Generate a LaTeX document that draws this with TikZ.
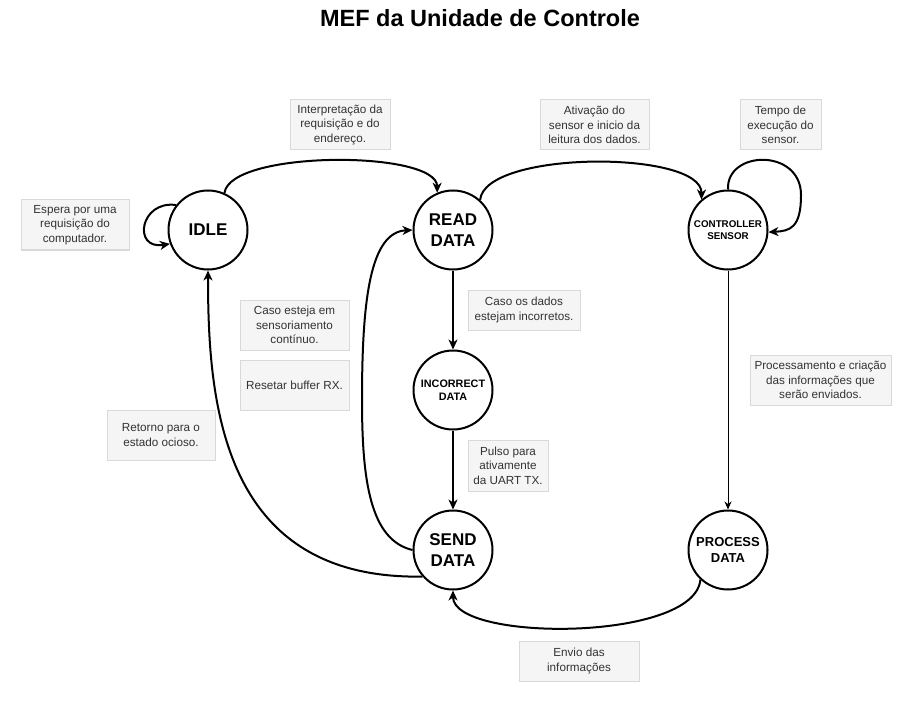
\documentclass[tikz,border=0pt]{standalone}
\usepackage{fontspec}
\setmainfont{Liberation Sans}
\usetikzlibrary{arrows.meta}
\definecolor{lblfill}{HTML}{F5F5F5}
\definecolor{lbldraw}{HTML}{D9D9D9}
\definecolor{lbltext}{HTML}{333333}
\begin{document}
\begin{tikzpicture}[x=1pt,y=-1pt,
  state/.style={circle, draw, line width=2pt, fill=white, minimum size=79pt, inner sep=0pt, align=center},
  bigfont/.style={font=\fontsize{17}{20.5}\selectfont\bfseries},
  lbl/.style={draw=lbldraw, fill=lblfill, text=lbltext, align=center, inner sep=0pt, line width=1pt, font=\fontsize{11.7}{14.5}\selectfont},
  edge/.style={line width=2pt, -{Stealth[length=10pt,width=9pt,inset=3pt]}},
  thinedge/.style={line width=1pt, -{Stealth[length=8pt,width=7pt,inset=2.5pt]}}
  ]
\useasboundingbox (0,0) rectangle (920,711);
\fill[white] (0,0) rectangle (920,711);

\node[anchor=base, font=\fontsize{23.5}{27}\selectfont\bfseries] (title) at (480,27) {MEF da Unidade de Controle};

% states
\node[state, bigfont] (idle) at (208,230) {IDLE};
\node[state, bigfont] (read) at (453,230) {READ\\DATA};
\node[state, font=\fontsize{9.8}{11.8}\selectfont\bfseries] (ctrl) at (728,230) {CONTROLLER\\SENSOR};
\node[state, font=\fontsize{10.8}{13}\selectfont\bfseries] (incorrect) at (453,390) {INCORRECT\\DATA};
\node[state, bigfont] (send) at (453,550) {SEND\\DATA};
\node[state, font=\fontsize{13}{16}\selectfont\bfseries] (process) at (728,550) {PROCESS\\DATA};

% labels
\node[lbl, minimum width=100pt, minimum height=50pt] (l1) at (340,125) {Interpreta\c{c}\~ao da\\requisi\c{c}\~ao e do\\endere\c{c}o.};
\node[lbl, minimum width=109pt, minimum height=50pt] (l2) at (594.5,125) {Ativa\c{c}\~ao do\\sensor e inicio da\\leitura dos dados.};
\node[lbl, minimum width=81pt, minimum height=50pt] (l3) at (780.5,125) {Tempo de\\execu\c{c}\~ao do\\sensor.};
\node[lbl, minimum width=108pt, minimum height=50pt] (l4) at (75,225) {Espera por uma\\requisi\c{c}\~ao do\\computador.};
\node[lbl, minimum width=109pt, minimum height=50pt] (l5) at (294.5,325) {Caso esteja em\\sensoriamento\\cont\'inuo.};
\node[lbl, minimum width=109pt, minimum height=50pt] (l6) at (294.5,385) {Resetar buffer RX.};
\node[lbl, minimum width=112pt, minimum height=40pt] (l7) at (524,310) {Caso os dados\\estejam incorretos.};
\node[lbl, minimum width=108pt, minimum height=50pt] (l8) at (161,435) {Retorno para o\\estado ocioso.};
\node[lbl, minimum width=80pt, minimum height=51pt] (l9) at (508,465.5) {Pulso para\\ativamente\\da UART TX.};
\node[lbl, minimum width=141pt, minimum height=50pt] (l10) at (820.5,380) {Processamento e cria\c{c}\~ao\\das informa\c{c}\~oes que\\ser\~ao enviados.};
\node[lbl, minimum width=120pt, minimum height=40pt] (l11) at (579,661) {Envio das\\informa\c{c}\~oes};

% connectors
\draw[edge] (idle.142) .. controls (140,200) and (132,250) .. (idle.200);
\draw[edge] (idle.66) .. controls (230,150) and (437,150) .. (read.113);
\draw[edge] (read.48) .. controls (485,150) and (702,150) .. (ctrl.131);
\draw[edge] (ctrl.90) .. controls (726,150) and (801,148) .. (801,195) .. controls (801,228) and (790,231) .. (ctrl.-3);
\draw[thinedge] (ctrl.south) -- (process.north);
\draw[edge] (read.south) -- (incorrect.north);
\draw[edge] (incorrect.south) -- (send.north);
\draw[edge] (process.227) .. controls (695,642) and (453,642) .. (send.south);
\draw[edge] (send.221) .. controls (220,580) and (208,400) .. (idle.south);
\draw[edge] (send.west) .. controls (370,540) and (362,480) .. (362,400) .. controls (362,300) and (370,232) .. (read.west);
\end{tikzpicture}
\end{document}
